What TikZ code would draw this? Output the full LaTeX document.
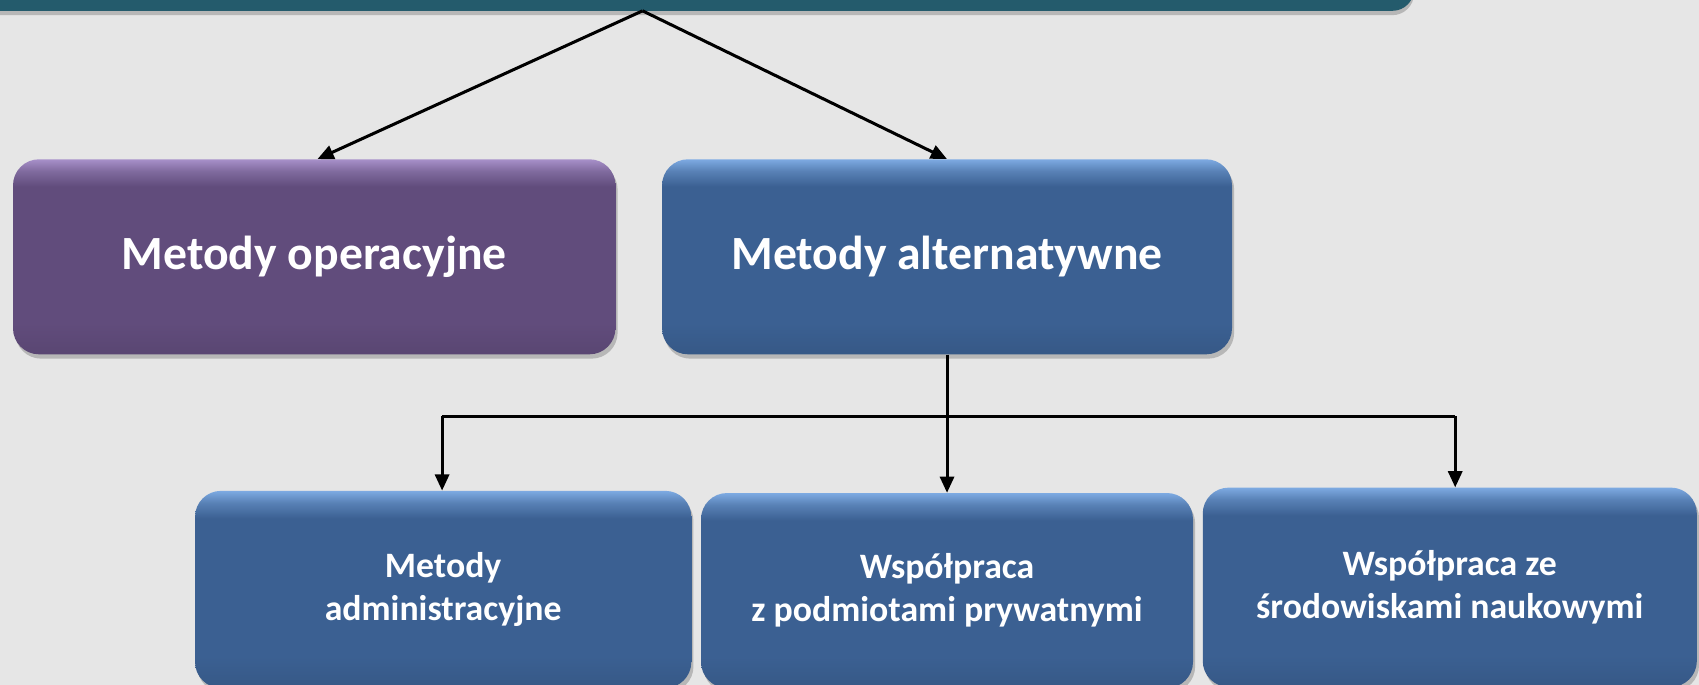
\documentclass[tikz,border=0pt]{standalone}
\usepackage{fontspec}
\setmainfont{Carlito}
\usetikzlibrary{arrows.meta,shadows,calc}
\definecolor{bgpaper}{HTML}{E6E6E6}
\definecolor{barteal}{HTML}{245B6C}
\definecolor{pmain}{HTML}{614C7C}
\definecolor{plight}{HTML}{A790C9}
\definecolor{bmain}{HTML}{3B6092}
\definecolor{blight}{HTML}{7DAAE2}
\pgfdeclareverticalshading{purpshade}{100bp}{color(0bp)=(pmain!92!black); color(25bp)=(pmain!92!black); color(33bp)=(pmain); color(68bp)=(pmain); color(72bp)=(pmain!55!plight); color(75bp)=(plight); color(100bp)=(plight)}
\pgfdeclareverticalshading{blueshade}{100bp}{color(0bp)=(bmain!92!black); color(25bp)=(bmain!92!black); color(33bp)=(bmain); color(68bp)=(bmain); color(72bp)=(bmain!55!blight); color(75bp)=(blight); color(100bp)=(blight)}
\tikzset{
  boxbase/.style={rectangle, rounded corners=24pt, text=white, align=center,
    font=\bfseries, inner sep=0pt,
    drop shadow={shadow xshift=2pt, shadow yshift=-4pt, opacity=0.3, fill=black!70}},
  purplebox/.style={boxbase, shading=purpshade},
  bluebox/.style={boxbase, shading=blueshade},
  bigtext/.style={font=\bfseries\fontsize{44}{52}\selectfont},
  smalltext/.style={font=\bfseries\fontsize{33}{40}\selectfont},
  conn/.style={line width=2.8pt, draw=black},
  arr/.style={conn, -{Triangle[length=15pt,width=13pt]}}
}
\begin{document}
\begin{tikzpicture}[x=1pt,y=-1pt]
\useasboundingbox (0,0) rectangle (1568,632);
\clip (0,0) rectangle (1568,632);
\fill[bgpaper] (0,0) rectangle (1568,632);
% top bar (cropped title box)
\node[rectangle, rounded corners=20pt, fill=barteal, minimum width=1325pt, minimum height=90pt,
  drop shadow={shadow xshift=0pt, shadow yshift=-4pt, opacity=0.3, fill=black!70}]
  (top) at (642.5,-35) {};
\coordinate (apex) at (593,10);
% level 1
\node[purplebox, bigtext, minimum width=556pt, minimum height=180pt] (oper) at (290,237) {Metody operacyjne};
\node[bluebox, bigtext, minimum width=526pt, minimum height=180pt] (alt) at (874,237) {Metody alternatywne};
% level 2
\node[bluebox, smalltext, minimum width=458pt, minimum height=182pt] (adm) at (409,544) {Metody\\administracyjne};
\node[bluebox, smalltext, minimum width=454pt, minimum height=180pt] (pryw) at (874,545) {Współpraca\\z podmiotami prywatnymi};
\node[bluebox, smalltext, minimum width=456pt, minimum height=184pt] (nauk) at (1338,542) {Współpraca ze\\środowiskami naukowymi};
% connectors
\draw[arr] (apex) -- ($(oper.north)+(3,0)$);
\draw[arr] (apex) -- (alt.north);
\draw[arr] (alt.south) -- (pryw.north);
\coordinate (hl) at (408,384);
\coordinate (hr) at (1343,384);
\draw[conn] (hl) -- (hr);
\draw[arr] (hl) -- (hl |- adm.north);
\draw[arr] (hr) -- (hr |- nauk.north);
\end{tikzpicture}
\end{document}
